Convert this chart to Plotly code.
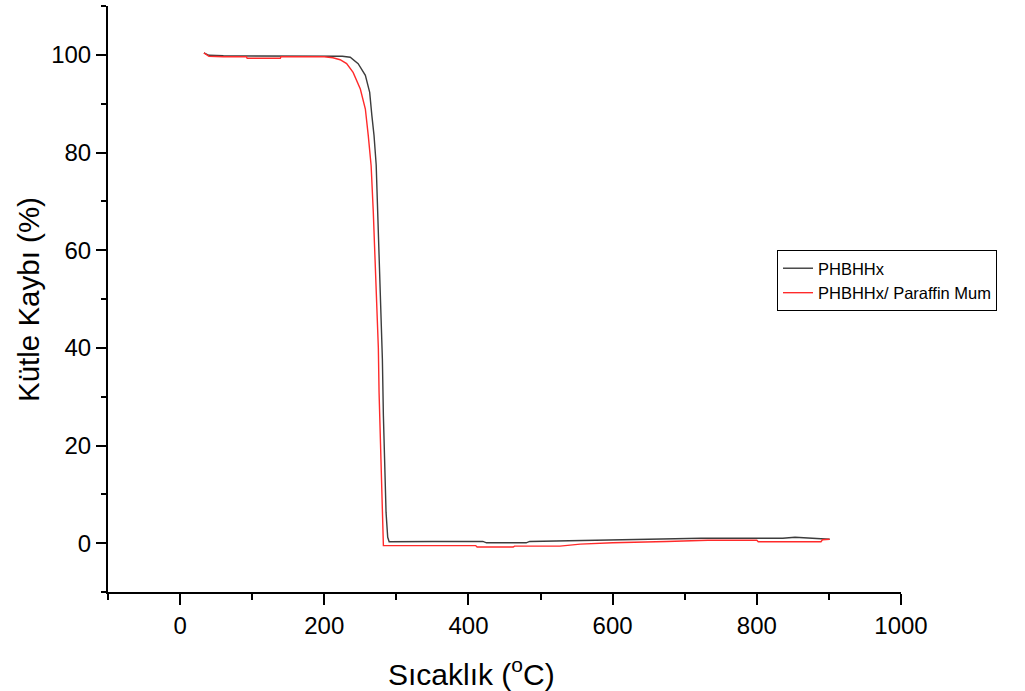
import plotly.graph_objects as go

# PHBHHx (black)
temp_phb = [33, 40, 60, 100, 150, 200, 215, 225, 236, 247, 257, 263, 266, 269, 272,
            275, 278, 280.6, 282, 284, 285.7, 288, 290, 350, 420, 425, 480, 485,
            550, 600, 650, 700, 723, 800, 836, 853, 880, 901]
mass_phb = [100.4, 99.9, 99.8, 99.8, 99.8, 99.8, 99.8, 99.7, 99.5, 98.2, 95.8, 92.3,
            87.6, 83.5, 77.5, 65.0, 49.0, 37.7, 26.1, 15.2, 6.3, 1.2, 0.3, 0.35,
            0.35, 0.07, 0.07, 0.35, 0.5, 0.6, 0.7, 0.8, 1.0, 1.0, 1.0, 1.2, 1.0, 0.8]

# PHBHHx / Paraffin Mum (red)
temp_par = [33, 40, 60, 92, 93, 139, 140, 200, 212, 222, 231, 240, 250, 257, 261,
            265, 268, 272, 275, 276, 278.3, 280, 282, 300, 410, 412, 462, 464, 527,
            555, 600, 675, 732, 800, 802, 889, 891, 901]
mass_par = [100.4, 99.7, 99.6, 99.6, 99.3, 99.3, 99.6, 99.6, 99.4, 99.0, 98.2, 96.4,
            93.0, 88.9, 83.5, 77.3, 67.8, 52.7, 40.0, 30.9, 19.3, 8.3, -0.5, -0.5,
            -0.5, -0.8, -0.8, -0.6, -0.6, -0.2, 0.1, 0.35, 0.6, 0.6, 0.3, 0.3, 0.7, 0.8]

x_ticks = [0, 200, 400, 600, 800, 1000]
y_ticks = [0, 20, 40, 60, 80, 100]

FONT = "Liberation Sans, Arial"

fig = go.Figure()
fig.add_trace(go.Scatter(x=temp_phb, y=mass_phb, mode="lines", name="PHBHHx",
                         line=dict(color="#3c3c3c", width=1.4)))
fig.add_trace(go.Scatter(x=temp_par, y=mass_par, mode="lines", name="PHBHHx/ Paraffin Mum",
                         line=dict(color="#ff2a2a", width=1.4)))

axis_common = dict(showgrid=False, zeroline=False, showline=True, linecolor="black",
                   linewidth=2, ticks="outside", tickwidth=2, tickcolor="black",
                   tickfont=dict(family=FONT, size=24, color="black"),
                   mirror=False)

fig.update_xaxes(range=[-100, 1000], tickvals=x_ticks, ticklen=11,
                 minor=dict(dtick=100, tick0=0, ticklen=6, tickwidth=2, ticks="outside", tickcolor="black"),
                 **axis_common)
fig.update_yaxes(range=[-10, 110], tickvals=y_ticks, ticklen=10,
                 minor=dict(dtick=10, tick0=0, ticklen=5, tickwidth=2, ticks="outside", tickcolor="black"),
                 **axis_common)

L, R, T, B = 108, 124, 6, 99
W, H = 1025, 691
pw = W - L - R
ph = H - T - B

def px_to_paper(px, py):
    return (px - L) / pw, (H - B - py) / ph

xt_x, xt_y = px_to_paper(471, 672)
yt_x, yt_y = px_to_paper(28, 300)
lg_x, lg_y = px_to_paper(777, 250)

fig.update_layout(
    width=W, height=H,
    margin=dict(l=L, r=R, t=T, b=B),
    paper_bgcolor="white", plot_bgcolor="white",
    showlegend=True,
    legend=dict(x=lg_x, y=lg_y, xanchor="left", yanchor="top",
                bgcolor="white", bordercolor="black", borderwidth=1,
                font=dict(family=FONT, size=16.5, color="black"),
                tracegroupgap=0),
    annotations=[
        dict(text="Sıcaklık (<sup>o</sup>C)", x=xt_x, y=xt_y, xref="paper", yref="paper",
             xanchor="center", yanchor="middle", showarrow=False,
             font=dict(family=FONT, size=30, color="black")),
        dict(text="Kütle Kaybı (%)", x=yt_x, y=yt_y, xref="paper", yref="paper",
             xanchor="center", yanchor="middle", showarrow=False, textangle=-90,
             font=dict(family=FONT, size=29.5, color="black")),
    ],
)

fig.write_html("out.html", config={"displayModeBar": False},
               post_script="document.body.style.margin='0px';")
